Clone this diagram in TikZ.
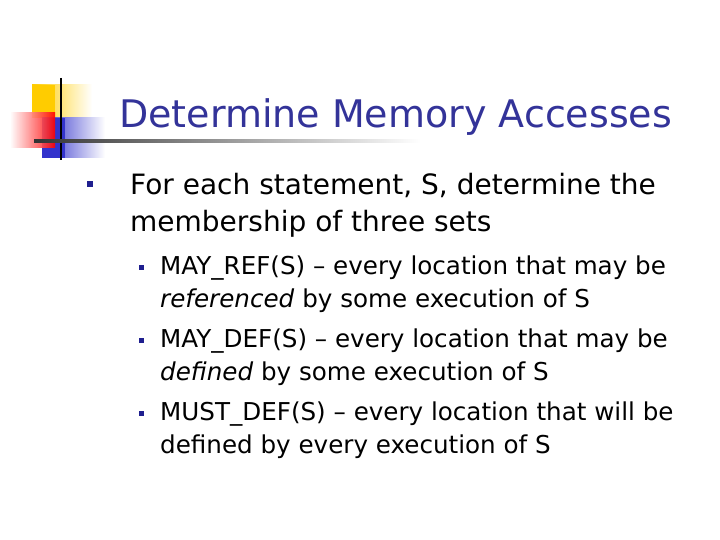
\documentclass[tikz,border=0pt]{standalone}
\usepackage{fontspec}
\setmainfont{DejaVu Sans}
\usetikzlibrary{fadings}
\definecolor{ttl}{HTML}{333399}
\definecolor{bul}{HTML}{1F1F8F}
\definecolor{ylw}{HTML}{FFCC00}
\definecolor{blu}{HTML}{3333CC}
\begin{document}
\begin{tikzpicture}[x=1pt,y=-1pt,
  txt/.style={anchor=base west,inner sep=0pt,font=\fontsize{28}{32}\selectfont},
  sub/.style={anchor=base west,inner sep=0pt,font=\fontsize{24.6}{28}\selectfont},
  bx/.style={fill=bul,draw=none}]
\useasboundingbox (0,0) rectangle (720,540);
\fill[fill=white] (0,0) rectangle (720,540);
% logo
\shade[left color=ylw, right color=white] (32,85) rectangle (92,118);
\fill[ylw] (32,85) rectangle (55,118);
\shade[left color=blu, right color=white] (42,118) rectangle (105,158);
\fill[blu] (42,118) rectangle (65,158);
\shade[left color=white, right color=red,opacity=0.9] (10,113) rectangle (55,148);
\draw[line width=2.5pt] (61,78) -- (61,160);
\shade[left color=black!80, right color=white] (34,140) rectangle (420,142.5);
\node[anchor=base west,inner sep=0pt,text=ttl,font=\fontsize{38}{44}\selectfont] (title) at (119,128) {Determine Memory Accesses};
\node[bx,minimum size=6pt,inner sep=0pt] (b1) at (90,184) {};
\node[txt] (l1) at (130,195) {For each statement, S, determine the};
\node[txt] (l2) at (130,232) {membership of three sets};
\node[bx,minimum size=5pt,inner sep=0pt] (b2) at (141,267) {};
\node[sub] (s1) at (160,274) {MAY\_REF(S) – every location that may be};
\node[sub] (s1b) at (160,307) {\textit{referenced} by some execution of S};
\node[bx,minimum size=5pt,inner sep=0pt] (b3) at (141,340) {};
\node[sub] (s2) at (160,347) {MAY\_DEF(S) – every location that may be};
\node[sub] (s2b) at (160,380) {\textit{defined} by some execution of S};
\node[bx,minimum size=5pt,inner sep=0pt] (b4) at (141,413) {};
\node[sub] (s3) at (160,420) {MUST\_DEF(S) – every location that will be};
\node[sub] (s3b) at (160,453) {defined by every execution of S};
\end{tikzpicture}
\end{document}
